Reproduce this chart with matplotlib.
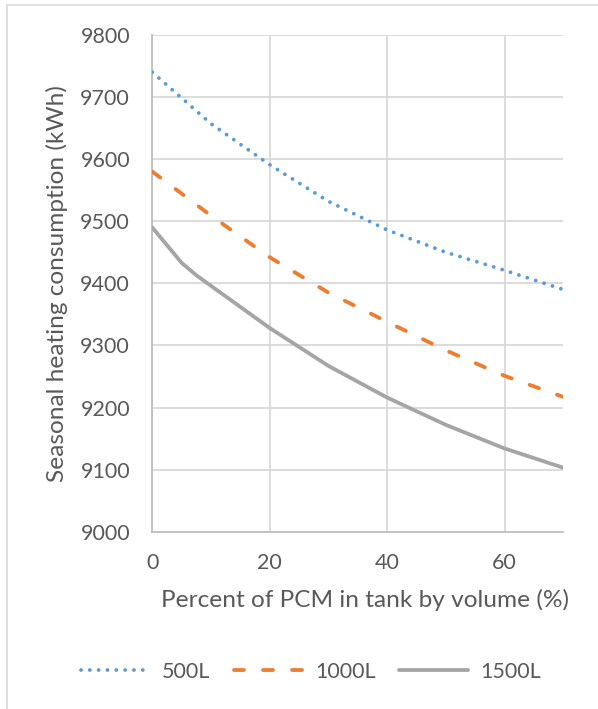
import matplotlib
matplotlib.use("Agg")
import matplotlib.pyplot as plt
from matplotlib.patches import Rectangle

# Seasonal heating consumption vs. share of PCM in the storage tank
pcm_pct = [0, 10, 20, 30, 40, 50, 60, 70]
tank_500 = [9740, 9657, 9591, 9532, 9486, 9450, 9421, 9390]
tank_1000 = [9580, 9509, 9442, 9385, 9338, 9292, 9251, 9217]

pcm_pct_1500 = [0, 5, 7.5, 10, 20, 30, 40, 50, 60, 70]
tank_1500 = [9490, 9433, 9413, 9396, 9328, 9267, 9216, 9172, 9134, 9103]

x_ticks = [0, 20, 40, 60]
y_ticks = [9000, 9100, 9200, 9300, 9400, 9500, 9600, 9700, 9800]

TEXT = "#595959"
GRID = "#d9d9d9"
AXIS = "#bfbfbf"

plt.rcParams["font.family"] = ["Lato", "DejaVu Sans"]

W, H = 598, 709
fig = plt.figure(figsize=(W / 100, H / 100), dpi=100)

# chart frame (light border open at right and bottom)
fig.patches.append(Rectangle((7 / W, -0.1), 1.2, (H - 5) / H + 0.1,
                             transform=fig.transFigure, fill=False,
                             edgecolor=GRID, linewidth=1.2))

ax = fig.add_axes([152.3 / W, 1 - 531.7 / H, (563.4 - 152.3) / W, (531.7 - 35) / H])

lw = 2.75
ax.plot(pcm_pct, tank_500, color="#5B9BD5", linewidth=lw,
        linestyle=(0, (0.01, 2.3)), dash_capstyle="round", label="500L", zorder=3)
ax.plot(pcm_pct, tank_1000, color="#ED7D31", linewidth=lw,
        linestyle=(0, (2.6, 5.0)), dash_capstyle="round", label="1000L", zorder=3)
ax.plot(pcm_pct_1500, tank_1500, color="#A5A5A5", linewidth=lw,
        solid_capstyle="round", label="1500L", zorder=3)

ax.set_xlim(0, 70)
ax.set_ylim(9000, 9800)
ax.set_xticks(x_ticks)
ax.set_yticks(y_ticks)
ax.grid(True, color=GRID, linewidth=1.3)
ax.set_axisbelow(True)
for side in ["top", "right"]:
    ax.spines[side].set_visible(False)
for side in ["left", "bottom"]:
    ax.spines[side].set_color(AXIS)
    ax.spines[side].set_linewidth(1.3)
    ax.spines[side].set_zorder(2.5)

ax.tick_params(length=0, labelsize=15.5, labelcolor=TEXT)
ax.tick_params(axis="y", pad=16)
ax.tick_params(axis="x", pad=15)

ax.set_xlabel("Percent of PCM in tank by volume (%)", fontsize=17.6,
              color=TEXT, labelpad=12)
ax.xaxis.label.set_x((365 - 152.3) / (563.4 - 152.3))
ax.set_ylabel("Seasonal heating consumption (kWh)", fontsize=17.6,
              color=TEXT, labelpad=9)

ax.legend(loc="center", bbox_to_anchor=(311 / W, 1 - 672 / H),
          bbox_transform=fig.transFigure, ncol=3, frameon=False,
          fontsize=15.5, labelcolor=TEXT, handlelength=3.2,
          handletextpad=0.55, columnspacing=1.1)

fig.savefig("out.png", dpi=100)
